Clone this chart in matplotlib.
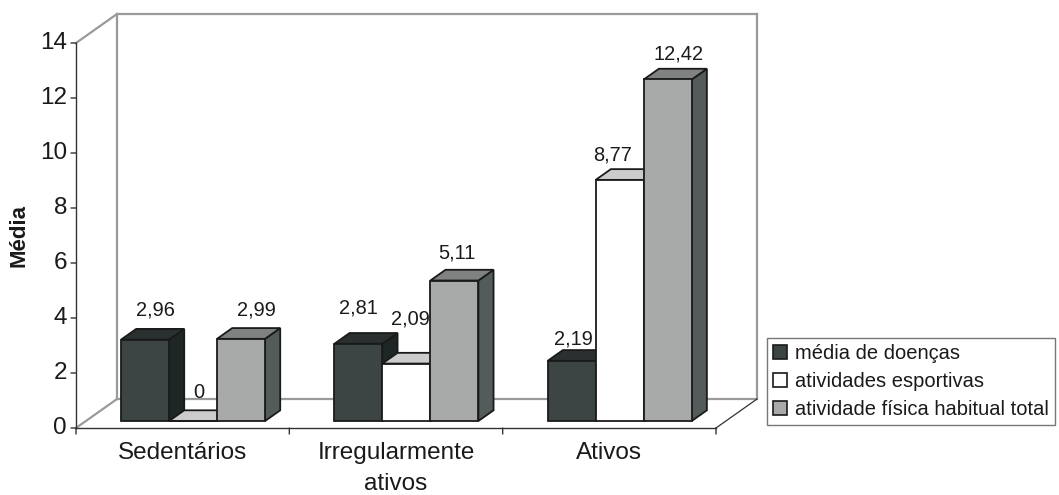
import matplotlib
matplotlib.use("Agg")
import matplotlib.pyplot as plt
from matplotlib.patches import Polygon, Patch

plt.rcParams['font.family'] = ['Liberation Sans', 'DejaVu Sans']

categories = ["Sedentários", "Irregularmente\nativos", "Ativos"]
series_names = ["média de doenças", "atividades esportivas", "atividade física habitual total"]
media_doencas = [2.96, 2.81, 2.19]
atividades_esportivas = [0, 2.09, 8.77]
atividade_total = [2.99, 5.11, 12.42]
value_labels = [["2,96", "2,81", "2,19"], ["0", "2,09", "8,77"], ["2,99", "5,11", "12,42"]]
yticks = [0, 2, 4, 6, 8, 10, 12, 14]

series = [media_doencas, atividades_esportivas, atividade_total]

# label placement nudges in pixels (x from bar front centre, gap above bar top)
label_dx = [[10, 0, 2], [6, 4, -7], [15, 3, 11]]
label_gap = [[13, 20, 6], [12, 28, 9], [13, 11, 9]]

# face colours per series: front, top, side
face_colors = [
    ("#3c4544", "#29302f", "#1f2726"),
    ("#ffffff", "#cccccc", "#d8d8d8"),
    ("#a7aaa9", "#7f8281", "#535c5a"),
]
edge = "#1a1a1a"
wall = "#9a9a9a"
txt = "#1a1a1a"

W, H = 1059, 495
fig = plt.figure(figsize=(W / 100, H / 100), dpi=100)
ax = fig.add_axes([76 / W, (H - 428) / H, 640 / W, 385 / H])
ymax = 14
ax.set_xlim(0, 3)
ax.set_ylim(0, ymax)
ax.axis("off")

# oblique depth offset (category units, value units)
DX, DY = 0.1922, 1.0545


def proj(x, v, d):
    return (x + d * DX, v + d * DY)


def poly(pts, fc, ec, lw, z):
    ax.add_patch(Polygon(pts, closed=True, facecolor=fc, edgecolor=ec,
                         linewidth=lw, joinstyle="miter", clip_on=False, zorder=z))


def line(p, q, color, lw, z=1):
    ax.plot([p[0], q[0]], [p[1], q[1]], color=color, lw=lw,
            solid_capstyle="projecting", clip_on=False, zorder=z)


def tick(xy, dx, dy):
    ax.annotate("", xy=xy, xytext=(dx, dy), textcoords="offset pixels",
                xycoords="data", arrowprops=dict(arrowstyle="-", color="#333333",
                                                 lw=1.0, shrinkA=0, shrinkB=0))


# walls and floor outline
line(proj(0, 0, 1), proj(0, ymax, 1), wall, 1.6)
line(proj(0, ymax, 1), proj(3, ymax, 1), wall, 1.6)
line(proj(3, ymax, 1), proj(3, 0, 1), wall, 1.6)
line(proj(0, 0, 1), proj(3, 0, 1), wall, 1.6)
line(proj(0, ymax, 0), proj(0, ymax, 1), wall, 1.6)
line(proj(0, 0, 0), proj(0, 0, 1), wall, 1.6)
line(proj(3, 0, 0), proj(3, 0, 1), "#333333", 0.9, 5)

# front axes
line((0, 0), (0, ymax), "#333333", 1.0, 5)
line((0, 0), (3, 0), "#333333", 1.0, 5)
for t in yticks:
    tick((0, t), -5, 0)
    ax.annotate(str(t), xy=(0, t), xytext=(-9, 0), textcoords="offset pixels",
                ha="right", va="center", fontsize=17.5, color=txt)
for t in [0, 1, 2, 3]:
    tick((t, 0), 0, -6)

for i, c in enumerate(categories):
    ax.annotate(c, xy=(i + 0.5, 0), xytext=(0, -14), textcoords="offset pixels",
                ha="center", va="top", fontsize=17.5, color=txt, linespacing=1.55)

ax.annotate("Média", xy=(0, ymax / 2), xytext=(-57, 0), textcoords="offset pixels",
            rotation=90, ha="center", va="center",
            fontsize=16, fontweight="bold", color=txt)

# bars
bw = 0.225
x0 = 0.165
d0, d1 = 0.24, 0.61
for i in range(len(categories)):
    for j, vals in enumerate(series):
        v = vals[i]
        xl = i + x0 + j * bw
        xr = xl + bw
        front_c, top_c, side_c = face_colors[j]
        z = 10 + i * 3 + j
        side = [proj(xr, 0, d0), proj(xr, 0, d1), proj(xr, v, d1), proj(xr, v, d0)]
        top = [proj(xl, v, d0), proj(xr, v, d0), proj(xr, v, d1), proj(xl, v, d1)]
        front = [proj(xl, 0, d0), proj(xr, 0, d0), proj(xr, v, d0), proj(xl, v, d0)]
        poly(side, side_c, edge, 1.3, z)
        poly(top, top_c, edge, 1.3, z)
        poly(front, front_c, edge, 1.3, z)
        fx, _ = proj((xl + xr) / 2, v, d0)
        top_y = proj(0, v, d1)[1]
        ax.annotate(value_labels[j][i], xy=(fx, top_y),
                    xytext=(label_dx[j][i], label_gap[j][i]),
                    textcoords="offset pixels", ha="center", va="baseline",
                    fontsize=14.4, color=txt, zorder=30)

handles = [Patch(facecolor=face_colors[k][0], edgecolor=edge, linewidth=1.2)
           for k in range(3)]
leg = fig.legend(handles, series_names, loc="center left",
                 bbox_to_anchor=(767 / W, (H - 381.5) / H),
                 frameon=True, fancybox=False, edgecolor="#555555",
                 fontsize=14.5, handlelength=0.7, handleheight=0.7,
                 handletextpad=0.4, borderpad=0.3, labelspacing=0.45,
                 borderaxespad=0)
leg.get_frame().set_linewidth(1.0)
for t in leg.get_texts():
    t.set_color(txt)

fig.savefig("out.png", dpi=100, facecolor="white")
